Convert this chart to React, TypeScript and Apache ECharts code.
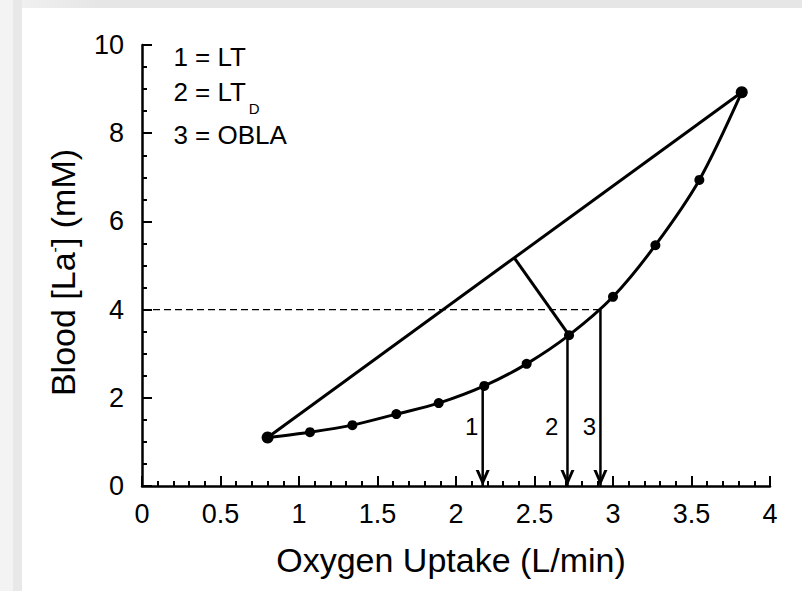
import React, { useEffect, useRef } from 'react';
import * as echarts from 'echarts';

// Measured data points (VO2 in L/min, blood lactate in mM)
const vo2 = [0.8, 1.07, 1.34, 1.62, 1.89, 2.18, 2.45, 2.72, 3.0, 3.27, 3.55, 3.82];
const lactate = [1.1, 1.22, 1.38, 1.63, 1.88, 2.27, 2.77, 3.42, 4.29, 5.46, 6.94, 8.93];

// Dmax construction: foot of the perpendicular on the chord, and the LT_D point
const dmaxFoot = [2.37, 5.18];
const dmaxPoint = [2.72, 3.42];

// OBLA level
const oblaLevel = 4;

// Thresholds (arrows)
const thresholdNames = ['1', '2', '3'];
const thresholdX = [2.17, 2.71, 2.92];
const thresholdTop = [2.27, 3.42, 4.0];
const thresholdLabelX = [2.1, 2.61, 2.85];
const thresholdLabelY = 1.34;

// Key (legend text)
const keyText = ['1 = LT', '2 = LT', '3 = OBLA'];
const keyX = 0.2;
const keyY = [9.73, 8.93, 7.96];
const keySubText = 'D';
const keySubX = 0.68;
const keySubY = 8.57;

// Axes
const xMin = 0, xMax = 4, xInterval = 0.5;
const yMin = 0, yMax = 10, yInterval = 2;

const FONT = '"Liberation Sans", Arial, Helvetica, sans-serif';
const ARROW = 'path://M0,0 L6,13 L12,0 L9.3,0 L6,7.4 L2.7,0 Z';

export default function App() {
  const ref = useRef<HTMLDivElement>(null);

  useEffect(() => {
    if (!ref.current) return;
    const chart = echarts.init(ref.current, undefined, { renderer: 'svg' });

    const curve = vo2.map((x, i) => [x, lactate[i]]);
    const first = curve[0];
    const last = curve[curve.length - 1];

    const lineBase = {
      type: 'line' as const,
      silent: true,
      clip: false,
      symbol: 'none',
      lineStyle: { color: '#000', width: 3 },
      itemStyle: { color: '#000' },
      z: 3,
    };

    const arrowSeries = thresholdX.map((x, i) => ({
      type: 'line' as const,
      silent: true,
      clip: false,
      symbol: 'circle',
      symbolSize: 0,
      showSymbol: true,
      lineStyle: { color: '#000', width: 2.5 },
      itemStyle: { color: '#000' },
      z: 4,
      data: [
        [x, thresholdTop[i]],
        { value: [x, 0], symbol: ARROW, symbolSize: [14, 16], symbolOffset: [0, '-50%'] },
      ],
    }));

    const labelSeries = (data: any[], fontSize: number, align?: string) => ({
      type: 'scatter' as const,
      silent: true,
      symbolSize: 1,
      itemStyle: { color: '#fff', opacity: 0 },
      label: {
        show: true,
        position: 'inside',
        align: align || 'center',
        verticalAlign: 'middle',
        formatter: (p: any) => p.data[2],
        fontFamily: FONT,
        fontSize,
        color: '#000',
        opacity: 1,
        textBorderWidth: 0,
      },
      data,
      z: 6,
    });

    const option: any = {
      animation: false,
      backgroundColor: '#ffffff',
      graphic: {
        elements: [
          { type: 'rect', z: -10, shape: { x: 0, y: 0, width: 13, height: 591 }, style: { fill: '#f3f3f3' } },
          { type: 'rect', z: -10, shape: { x: 13, y: 0, width: 9, height: 591 }, style: { fill: '#e8e8e8' } },
          {
            type: 'rect', z: -10, shape: { x: 22, y: 0, width: 780, height: 8 },
            style: {
              fill: new echarts.graphic.LinearGradient(0, 0, 1, 0, [
                { offset: 0, color: '#f0f0f0' },
                { offset: 0.1, color: '#e6e6e6' },
                { offset: 1, color: '#e6e6e6' },
              ]),
            },
          },
        ],
      },
      grid: { left: 142, right: 32, top: 45, bottom: 105, containLabel: false },
      xAxis: {
        type: 'value',
        min: xMin,
        max: xMax,
        interval: xInterval,
        name: 'Oxygen Uptake (L/min)',
        nameLocation: 'middle',
        nameGap: 57,
        nameTextStyle: { fontFamily: FONT, fontSize: 34, color: '#000', padding: [0, 10, 0, 0] },
        axisLine: { show: true, onZero: false, lineStyle: { color: '#000', width: 2.5 } },
        axisTick: { show: true, inside: true, length: 10, lineStyle: { color: '#000', width: 2 } },
        minorTick: { show: true, splitNumber: 5, length: 5, lineStyle: { color: '#000', width: 2 } },
        splitLine: { show: false },
        axisLabel: { fontFamily: FONT, fontSize: 27, color: '#000', margin: 14 },
      },
      yAxis: {
        type: 'value',
        min: yMin,
        max: yMax,
        interval: yInterval,
        name: '{t|Blood [La}{s|-}{t|] (mM)}',
        nameLocation: 'middle',
        nameGap: 62,
        nameTextStyle: {
          fontFamily: FONT,
          color: '#000',
          padding: [0, 14, 0, 0],
          rich: {
            t: { fontFamily: FONT, fontSize: 34, color: '#000' },
            s: { fontFamily: FONT, fontSize: 16, color: '#000', verticalAlign: 'top' },
          },
        },
        axisLine: { show: true, onZero: false, lineStyle: { color: '#000', width: 2.5 } },
        axisTick: { show: true, inside: true, length: 10, lineStyle: { color: '#000', width: 2 } },
        minorTick: { show: true, splitNumber: 4, length: 5, lineStyle: { color: '#000', width: 2 } },
        splitLine: { show: false },
        axisLabel: { fontFamily: FONT, fontSize: 27, color: '#000', margin: 18 },
      },
      series: [
        // dashed OBLA reference line
        {
          ...lineBase,
          lineStyle: { color: '#000', width: 1.4, type: [7, 4] },
          z: 2,
          data: [[0, oblaLevel], [thresholdX[2], oblaLevel]],
        },
        // chord between first and last points
        { ...lineBase, data: [first, last] },
        // perpendicular (Dmax)
        { ...lineBase, data: [dmaxFoot, dmaxPoint] },
        // lactate curve with points
        {
          type: 'line',
          silent: true,
          clip: false,
          smooth: 0.3,
          symbol: 'circle',
          symbolSize: 10,
          lineStyle: { color: '#000', width: 3 },
          itemStyle: { color: '#000' },
          z: 5,
          data: curve.map((p, i) =>
            i === 0 || i === curve.length - 1 ? { value: p, symbolSize: 12 } : p
          ),
        },
        ...arrowSeries,
        // threshold numbers
        labelSeries(
          thresholdX.map((_, i) => [thresholdLabelX[i], thresholdLabelY, thresholdNames[i]]),
          24
        ),
        // key text
        labelSeries(keyText.map((t, i) => [keyX, keyY[i], t]), 26, 'left'),
        labelSeries([[keySubX, keySubY, keySubText]], 15, 'left'),
      ],
    };

    chart.setOption(option);
    return () => chart.dispose();
  }, []);

  return (
    <div
      ref={ref}
      style={{ position: 'fixed', left: 0, top: 0, width: 802, height: 591 }}
    />
  );
}
